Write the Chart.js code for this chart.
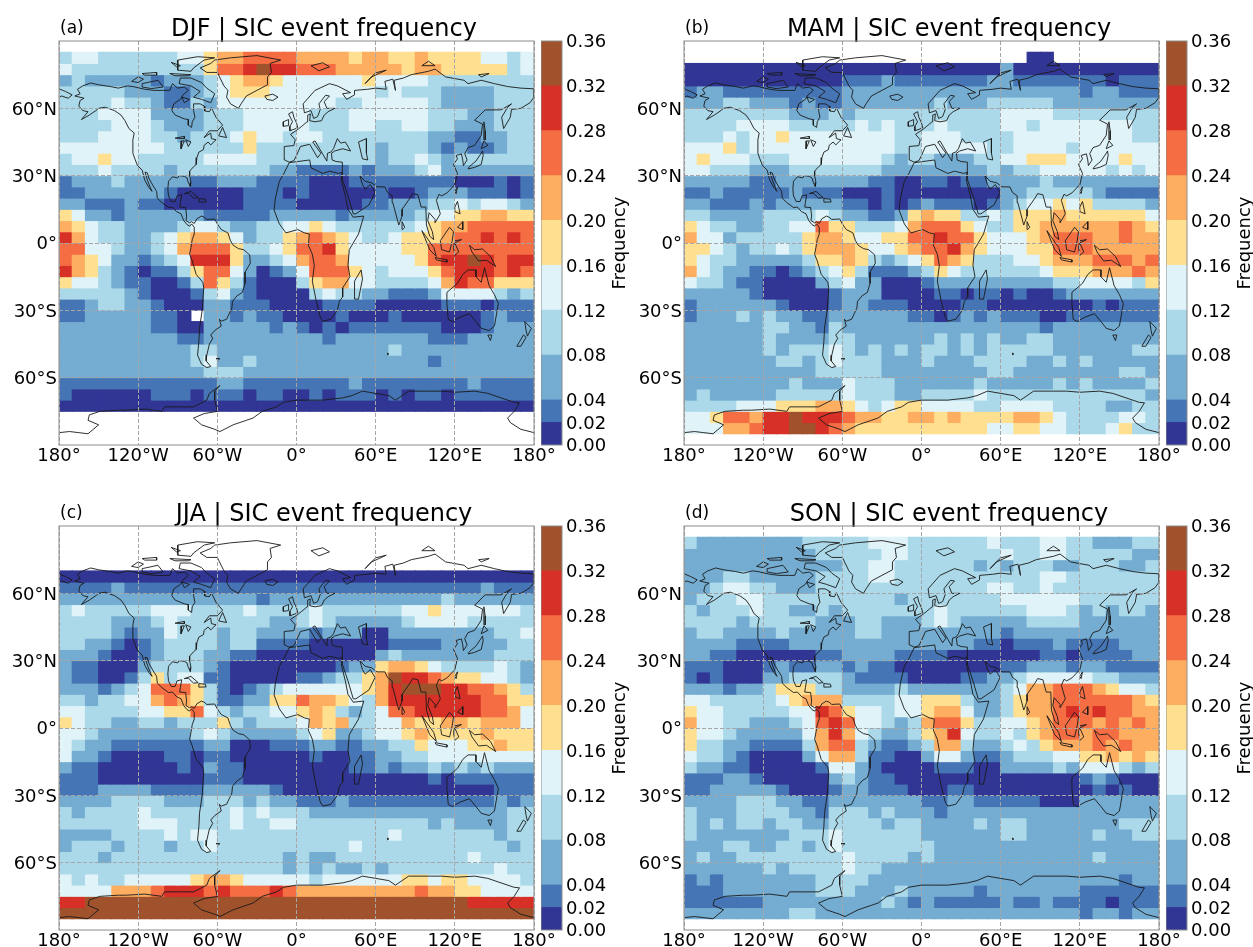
<!DOCTYPE html>
<html>
<head>
<meta charset="utf-8">
<title>SIC event frequency</title>
<script src="https://cdn.jsdelivr.net/npm/chart.js@4"></script>
<style>
  html, body { margin: 0; background: #fff; overflow: hidden; width: 1253px; height: 947px; }
  .slot { position: absolute; }
</style>
</head>
<body>
<script>
// Colour classes
const bounds = [0, 0.02, 0.04, 0.08, 0.12, 0.16, 0.20, 0.24, 0.28, 0.32, 0.36];
const boundColors = ["#313695", "#4575b4", "#74add1", "#abd9e9", "#e0f3f8", "#fee090", "#fdae61", "#f46d43", "#d73027", "#a0522d"];

const lonTicks = [-180, -120, -60, 0, 60, 120, 180];
const latTicks = [-60, -30, 0, 30, 60];
const seasons = ["DJF", "MAM", "JJA", "SON"];
const tags = ["(a)", "(b)", "(c)", "(d)"];

// Frequency class of each 10x5 degree cell, north to south, 180W to 180E.
// One digit = index into bounds, "." = no data. Grouped by six to keep them countable.
const blank = "...... ...... ...... ...... ...... ......";
const djf = [
  blank,
  "344333 333445 667777 666656 655655 554434",
  "433333 333335 778988 777666 665665 555534",
  "232222 212223 456654 444445 444433 333333",
  "333332 221123 455544 444444 343332 222333",
  "333343 321132 444444 444334 444432 222333",
  "333444 422223 334444 433344 444433 322333",
  "333344 432223 334444 433344 334433 222333",
  "333444 433233 345443 443333 333322 112233",
  "444444 443333 335333 333333 233321 211233",
  "344544 333334 444333 333333 233432 333333",
  "333433 332333 333322 111121 222342 222222",
  "122232 222211 222111 100011 111111 000101",
  "112222 221000 001110 100000 100122 211101",
  "221112 110000 001111 000001 122233 434432",
  "542212 222221 111122 222122 222344 556655",
  "654332 222344 322334 454333 333456 677777",
  "864332 234566 542335 676543 345556 778787",
  "774432 234677 753345 778544 445577 777777",
  "765422 123488 852234 677644 444578 898788",
  "865321 011357 742012 477754 344457 888787",
  "544321 100137 531000 356644 333346 877555",
  "333332 100013 421000 034332 211124 444323",
  "112332 210002 211100 001111 000001 110111",
  "112222 2110.2 212110 000100 010000 001211",
  "222222 211002 222212 101011 111110 001222",
  "222222 222112 222222 221222 222211 122222",
  "222222 222233 222222 222222 232222 222222",
  "222222 222234 223222 222222 222212 222222",
  "222222 222223 332222 222222 222222 222222",
  "111111 111111 221111 111121 111111 121111",
  "100000 011101 110110 010111 010110 111111",
  "000000 000000 000000 000000 000000 000000",
  blank,
  blank,
  blank
];
const mam = [
  blank,
  "...... ...... ...... ...... ..00.. ......",
  "000000 000000 000000 000000 200000 000000",
  "000000 000000 111211 111112 211111 110111",
  "122111 111111 222222 222222 222222 122111",
  "222332 221211 222222 232223 333322 222222",
  "333333 332223 233333 333333 444433 333333",
  "333344 443333 343433 343333 443444 444433",
  "333434 454444 444433 444333 344444 444433",
  "444534 444444 444433 444443 344443 444444",
  "454443 334444 444323 322233 445554 444544",
  "443332 223333 333222 222223 233444 443434",
  "222221 122222 221100 110112 222322 222222",
  "112111 112111 000100 000000 223333 321111",
  "221112 122222 110101 211101 234454 533332",
  "332222 333343 221125 655334 355565 555554",
  "543322 334475 533346 777543 355666 666765",
  "644233 333566 544557 787754 445677 766766",
  "554323 343566 654456 778654 445577 766666",
  "543322 222355 653234 576533 344566 677767",
  "643221 101234 531112 354333 333455 566676",
  "433211 000023 422000 122222 222233 444435",
  "222221 000001 222000 011011 010012 222222",
  "122222 210001 221110 000110 000000 010111",
  "122232 322112 222221 101212 111001 111111",
  "222222 332213 222222 222222 222122 222222",
  "222222 322223 322222 232323 223322 222222",
  "222222 323334 323232 332323 333322 222233",
  "222222 233234 333222 322233 332232 322222",
  "222222 222233 333222 222223 322222 222332",
  "222222 223222 433322 222232 222232 322223",
  "232222 233333 433322 333343 333333 333332",
  "333344 455566 543455 444433 444433 332233",
  "445776 889888 766556 656555 566543 333443",
  "444667 889987 655555 555554 455443 334533",
  blank
];
const jja = [
  blank,
  blank,
  blank,
  blank,
  "000000 000000 000000 000000 000000 000000",
  "111121 111111 111111 111111 111111 112111",
  "222222 222222 222122 222222 222223 222222",
  "343333 344433 334333 343333 334454 444443",
  "333322 234333 333322 343222 223444 433333",
  "333321 224333 233222 212220 022222 222334",
  "332210 123333 233111 100000 011112 222233",
  "222100 123332 211000 000000 232222 222333",
  "211000 233332 100000 000122 566543 333432",
  "211001 353441 100000 112335 698876 554432",
  "222123 477753 101234 444445 689998 877653",
  "332334 467653 112255 766543 688888 887755",
  "443333 445574 323344 565323 477888 887764",
  "543322 332333 532333 465633 446556 656664",
  "443222 222234 322222 345223 445655 556555",
  "432211 111112 200011 122112 233544 455655",
  "422100 001101 100000 010011 223344 444444",
  "211000 000102 110000 000011 212232 323222",
  "111000 000001 110000 000000 000010 111111",
  "111222 211112 222210 000000 000000 000111",
  "222233 332223 332322 111211 111111 111212",
  "323333 433333 343433 322222 222222 222233",
  "333333 444333 343344 333333 333323 222233",
  "222233 334344 333333 333333 343333 333233",
  "233323 332334 333333 333343 333333 333323",
  "333233 333333 333332 322333 333333 343333",
  "333333 333333 333332 323223 233333 333433",
  "434334 444456 654444 434444 445545 544443",
  "444466 678887 877787 666666 666766 554444",
  "889999 999999 999999 999999 999999 988888",
  "999999 999999 999999 999999 999999 999999",
  blank
];
const son = [
  blank,
  "322222 222333 334443 333334 333443 322233",
  "222222 222233 333443 333333 433443 333322",
  "222222 222222 334433 333323 233322 333223",
  "222332 222233 334433 333333 333443 333333",
  "223443 322233 333333 333334 433433 333333",
  "233344 333333 333323 333333 444444 333333",
  "323334 332232 333333 343333 334443 232332",
  "333323 333322 233222 343222 223333 222222",
  "233222 232222 233222 222222 122222 222222",
  "222211 112222 222222 222211 011121 111222",
  "221100 000011 222211 110000 000110 111122",
  "111000 121122 121100 000000 112221 221111",
  "101000 223333 211110 000112 234444 433222",
  "222122 355533 222232 222222 346677 765443",
  "443333 345666 333344 555322 356677 777765",
  "544333 334487 544344 566422 356678 787766",
  "644332 223478 744323 677533 445677 767676",
  "544322 222468 643223 568433 435677 677666",
  "533221 111367 732112 366322 343566 676766",
  "433210 000246 631100 244211 233344 556565",
  "322110 000014 421000 011100 222232 444323",
  "111221 000002 321100 000000 000000 121000",
  "112222 210001 221110 001100 000000 010100",
  "222233 322112 222222 112211 111000 222222",
  "322233 332213 332322 212222 222222 222222",
  "323233 233223 333233 222232 332222 222333",
  "322222 223334 333333 222222 332222 232233",
  "222332 233234 333333 322222 222222 222222",
  "232233 333333 433332 322222 222222 232222",
  "222222 323333 433222 222222 222222 222222",
  "121222 222233 332222 222222 222222 222122",
  "111222 222233 322232 222212 222222 111111",
  "111111 222222 222321 211111 211211 110111",
  "222222 223322 222222 222222 222222 122122",
  blank
];
const seasonRows = [djf, mam, jja, son];

// Rough coastlines, [lon, lat]
const coastlines = [
  // Americas
  [[-168,65.5],[-164,66.5],[-166,68.5],[-162,70],[-156,71.3],[-150,70.5],[-141,69.7],[-135,69],[-128,70],[-124,69.7],[-115,68.5],[-108,68],[-101,68],[-96,68],[-94,71],[-90,69],[-85,69.5],[-82,68],[-86,66],[-88,64],[-93,62],[-94.5,59],[-92,57],[-85,55.3],[-82,55],[-82,52.5],[-79.5,51.5],[-79,54],[-77,56],[-78,59],[-78,62],[-73,62],[-70,61],[-69.5,58.8],[-66,58.5],[-64.5,60.3],[-61,56],[-56,52.5],[-60,50],[-66,50],[-70,47],[-65,49],[-64.5,46.5],[-61,46],[-65,43.7],[-67,45],[-70,43.5],[-70.5,41.6],[-74,40.5],[-75.5,38],[-76,35],[-78,34],[-81,32],[-81,30],[-80,27],[-80.5,25.2],[-82,27],[-83,29],[-85,29.7],[-89,30],[-90,29],[-94,29.5],[-97,27.5],[-97.5,24],[-97,21],[-95,18.5],[-92,18.5],[-90.5,21],[-87,21.5],[-88,18],[-88.5,16],[-84,15.8],[-83.3,12],[-83.8,10],[-81,9],[-79.5,9.5],[-77.5,8.7],[-75.5,10.8],[-72,12],[-70,11.5],[-68,10.5],[-62,10.7],[-60,8.5],[-57,6],[-52,4.5],[-50,1],[-48,-1],[-44,-2.5],[-40,-3],[-35.5,-5.3],[-35,-9],[-39,-13],[-39,-18],[-41,-22],[-45,-23.5],[-48.5,-26],[-49,-29],[-53,-34],[-57,-34.8],[-58.5,-34],[-57,-37],[-62,-39],[-65,-41],[-63.5,-42.5],[-66,-45],[-68,-50],[-68.5,-52.5],[-65,-55],[-68,-55.5],[-72,-54],[-75,-50],[-74,-44],[-73.5,-38],[-71.5,-30],[-70.3,-20],[-71,-17.5],[-76,-14],[-79,-8],[-81,-5],[-80,-2],[-79,1.5],[-77.5,4],[-77.5,7],[-79.5,8.5],[-81,7.5],[-83,8.2],[-85.5,10],[-87.5,13],[-91,14],[-94,16],[-97,15.8],[-102,18],[-105.5,20],[-106,23],[-109,25.8],[-112,29],[-113,31.2],[-114.8,31.6],[-113,28],[-111,25],[-109.5,23],[-112,24.8],[-115,28],[-117,32.5],[-120.5,34.5],[-122.5,37.5],[-124,40],[-124,46],[-123,49],[-127,51],[-130,54.5],[-133,57],[-138,59],[-145,60.5],[-150,60],[-152,59],[-157,57],[-163,55],[-158,58.5],[-162,59],[-165,61],[-164,63.5],[-161,64.5],[-168,65.5]],
  // Greenland
  [[-73,78],[-68,76],[-60,76],[-55,70],[-52,68],[-53,65],[-50,62],[-44,60],[-42,62],[-38,65.5],[-30,68],[-22,70.5],[-22,74],[-19,76],[-20,80],[-12,81.5],[-30,83.5],[-50,82.5],[-62,81.5],[-65,80],[-73,78]],
  // Canadian Arctic and north Atlantic islands
  [[-80,73.5],[-72,71.5],[-68,69],[-62,66.5],[-65,62.5],[-72,64],[-78,65],[-73,67.5],[-80,70],[-89,71],[-88,73.5],[-80,73.5]],
  [[-117,71],[-105,72.5],[-101,69.5],[-110,68.8],[-117,69.5],[-117,71]],
  [[-125,72],[-120,74],[-116,73],[-120,71.5],[-125,72]],
  [[-90,77],[-80,76.5],[-78,78],[-70,81.5],[-62,82.5],[-75,83],[-90,81.5],[-90,77]],
  [[-96,75.5],[-80,75],[-82,74.5],[-92,74.5],[-96,75.5]],
  [[-117,75.5],[-106,76],[-106,74.8],[-115,74.8],[-117,75.5]],
  [[-95,80.5],[-88,79],[-91,78.5],[-95,80.5]],
  [[-87,65],[-81,64],[-85,62.5],[-87,65]],
  [[-59,47.7],[-56,51.5],[-53,47],[-59,47.7]],
  [[-85,22],[-80,23],[-74.5,20.2],[-78,20],[-82,22.2],[-85,22]],
  [[-74,19.8],[-69,19.5],[-68.5,18.3],[-74,18.2],[-74,19.8]],
  [[-24,65.5],[-18,66.3],[-14,65],[-18,63.5],[-22.5,64],[-24,65.5]],
  [[-92,46.7],[-85,47.5],[-85,46.5],[-92,46.7]],
  [[-87.5,42],[-85,45.5],[-87,45.5],[-87.5,42]],
  [[-84,46],[-80,45],[-82,43],[-84,46]],
  // Eurasia
  [[-9,37],[-9.3,43],[-2,43.4],[-1,46],[-4.5,48.4],[1.5,50.8],[4,52],[8,54],[8.5,57],[10.5,57.5],[10,54.5],[14,54],[19,54.5],[21,57],[24,58.5],[29,60],[23,60],[21,63],[25,65.5],[22,65.8],[17,62],[18,59.5],[16,56.3],[13,55.5],[11,59],[6,58],[5,62],[14,68],[25,71],[31,70],[41,67],[35,66.5],[38,64],[44,66],[44,68],[54,68.5],[60,69],[68,68.5],[67,72],[73,73],[75,68],[74,72.5],[81,73.5],[87,75],[100,76.5],[105,77.5],[113,74],[127,72.5],[130,71],[140,72.5],[150,71],[160,69.7],[170,69],[180,68.7],[180,65],[177,62.5],[170,60],[163,59.5],[162,56],[157,51],[155.5,56],[160,60.5],[163,62],[155,59.3],[143,59.3],[135,54.7],[141,53],[140,48],[135,43.5],[130,42.5],[127.5,39.8],[129.3,37],[126.5,34.5],[126,37],[125,39.7],[121,39],[122,37.5],[119,35],[122,31],[120,26],[114,22.3],[110,21],[108,21.7],[106,19],[109,13],[105,9],[105,10.5],[100.5,13.5],[99.5,10],[103,5],[104,1.5],[101,3],[98.5,8],[98,16],[94.5,16],[92,21.5],[88,22],[86,20],[80,15],[80,12],[77.5,8],[73,18],[72.5,21],[69,22.5],[67,25],[61,25],[57,26.8],[52,27.5],[48,30],[50,26],[52,24],[56,26],[59.5,22.5],[55,17],[45,13],[43,13],[39,21],[35,28],[34.5,31.5],[35,36],[30,36.3],[27,37],[26.5,40],[29,41],[35,42],[41,41],[37,45],[33.5,44.5],[31,46.5],[28,42],[26,40.5],[23.5,40],[23,36.5],[20,39.5],[14,45.5],[12.3,45],[18.5,40],[16,38],[10,44],[3,43],[0,39],[-2,36.7],[-5.5,36],[-9,37]],
  [[-180,68.7],[-175,67.5],[-170,66],[-173,64.5],[-178,65.5],[-180,65]],
  // Africa
  [[-5.5,35.8],[10,37],[11,33.5],[20,31],[25,32],[32,31],[34.5,31.5],[34,28],[37,21],[39,15],[43,11.5],[51,12],[47,4],[40,-3],[39,-10],[40.5,-15],[35,-20],[35,-24],[32.5,-26],[31,-30],[26,-34],[20,-34.8],[18,-33],[15,-26],[12,-17],[13.5,-10],[12,-5],[9,-1],[9.7,4],[6,4.5],[1,6],[-8,4.5],[-13,8.5],[-17,14.7],[-16,20],[-13,27.5],[-9.5,31],[-5.5,35.8]],
  // Islands of Europe, Asia and the Indian Ocean
  [[-5,50],[1,51.3],[0,53.5],[-2,56],[-3,58.5],[-6,57.5],[-3,54],[-5,52],[-5,50]],
  [[-10,52],[-6,52.3],[-6,55],[-10,54],[-10,52]],
  [[11,79],[20,80.3],[25,78.5],[17,76.7],[11,79]],
  [[52,71],[57,74],[68,77],[60,75.8],[55,73],[52,71]],
  [[95,79],[105,79],[100,81],[95,79]],
  [[138,75],[146,75.5],[140,74],[138,75]],
  [[142,54],[143,50],[143,46],[142,46],[142,50],[142,54]],
  [[130,33],[135,33.7],[140,35],[141.5,39],[141,41],[140,40],[136,36.5],[131,34],[130,33]],
  [[140,42],[145,43.5],[142,45.5],[140,42]],
  [[120,23],[122,25],[121,22],[120,23]],
  [[120,16],[122,18.5],[124,13],[120,14],[120,16]],
  [[122,7],[126,9.5],[126,6],[122,7]],
  [[109,1],[116,7],[119,5],[118,1],[116,-4],[110,-3],[109,1]],
  [[95,5.5],[104,-2],[106,-6],[101,-3],[95,5.5]],
  [[105,-6.5],[114,-7.5],[114,-8.5],[106,-7.5],[105,-6.5]],
  [[120,1],[125,1.5],[120,0],[123,-4],[120,-5.5],[119,-2],[120,1]],
  [[131,-1],[135,-3],[141,-2.7],[147,-6],[151,-10.5],[144,-7.7],[138,-8],[133,-4],[131,-1]],
  [[80,9.5],[82,7],[80.5,6],[80,9.5]],
  [[49,-12],[50,-16],[47,-25],[44,-25],[44,-17],[49,-12]],
  [[47,45],[53,46.5],[53,40],[54,37],[50,37.5],[49,40],[47,45]],
  [[69,-49],[70,-49.5],[69,-49.8],[69,-49]],
  // Australia and New Zealand
  [[114,-22],[122,-18],[126,-14],[130,-12],[136,-12],[136,-15],[140,-17.5],[142.5,-11],[146,-19],[150,-23],[153,-27],[150,-37],[146,-39],[140,-38],[136,-35],[131,-31.5],[124,-33],[118,-35],[115,-34],[114,-27],[114,-22]],
  [[145,-41],[148,-41],[147,-43.5],[145,-41]],
  [[173,-35],[178,-38],[175,-41.5],[174,-39],[173,-35]],
  [[172,-41],[174,-42],[170,-46],[167,-46],[172,-41]],
  [[-61,-51.5],[-58,-51.5],[-59,-52],[-61,-51.5]],
  // Antarctica
  [[-180,-84.5],[-172,-84],[-165,-84.5],[-158,-85],[-150,-81],[-158,-79],[-157,-76.6],[-149,-75],[-135,-74.5],[-129,-74.5],[-115,-74],[-102,-75],[-100,-73],[-90,-73],[-78,-73],[-68,-70],[-66,-67],[-58,-63.5],[-62,-66],[-62,-70],[-60,-75],[-70,-76],[-78,-78],[-72,-81],[-62,-83],[-58,-84],[-48,-81],[-38,-79],[-33,-78],[-26,-75],[-15,-73],[-10,-71],[0,-70],[10,-70],[20,-70],[35,-69],[42,-68],[50,-66],[60,-67],[70,-68],[75,-70],[85,-66],[100,-66],[110,-66],[120,-66.5],[135,-66],[145,-67],[155,-69],[165,-71],[169,-71.2],[165,-75],[160,-78],[162,-80],[170,-83],[180,-84.5]]
];

Chart.defaults.font.family = '"DejaVu Sans"';
Chart.defaults.color = "#000";
Chart.defaults.animation = false;

const LON_STEP = 10, LAT_STEP = 5;
const GRID_GREY = "#a6a6a6";
const FRAME_GREY = "#8c8c8c";

function makeCanvas(left, top, width, height) {
  const slot = document.createElement("div");
  slot.className = "slot";
  slot.style.left = left + "px";
  slot.style.top = top + "px";
  const canvas = document.createElement("canvas");
  canvas.width = width;
  canvas.height = height;
  slot.appendChild(canvas);
  document.body.appendChild(slot);
  return canvas;
}

// level digit -> middle of its class
function cellValue(ch) {
  const i = Number(ch);
  return (bounds[i] + bounds[i + 1]) / 2;
}
function colorFor(v) {
  for (let i = 0; i < boundColors.length; i++) {
    if (v < bounds[i + 1]) return boundColors[i];
  }
  return boundColors[boundColors.length - 1];
}

function rowDatasets(rows) {
  return rows.map((row, r) => {
    const cells = row.replace(/ /g, "");
    const data = [], colors = [];
    for (let c = 0; c < cells.length; c++) {
      if (cells[c] === ".") continue;
      const north = 90 - r * LAT_STEP;
      data.push({ x: -180 + (c + 0.5) * LON_STEP, y: [north - LAT_STEP, north] });
      colors.push(colorFor(cellValue(cells[c])));
    }
    return { type: "bar", order: 1, data: data, backgroundColor: colors };
  });
}

function coastDatasets() {
  return coastlines.map(line => ({
    type: "line",
    order: 0,
    data: line.map(p => ({ x: p[0], y: p[1] })),
    borderColor: "#1a1a1a",
    borderWidth: 0.9,
    pointRadius: 0,
    tension: 0,
    fill: false
  }));
}

function frame(chart) {
  const a = chart.chartArea, ctx = chart.ctx;
  ctx.save();
  ctx.strokeStyle = FRAME_GREY;
  ctx.lineWidth = 1;
  ctx.strokeRect(a.left, a.top, a.right - a.left, a.bottom - a.top);
  ctx.restore();
}

function lonLabel(v) {
  if (v === 0) return "0°";
  if (Math.abs(v) === 180) return "180°";
  return Math.abs(v) + (v < 0 ? "°W" : "°E");
}
function latLabel(v) {
  if (v === 0) return "0°";
  return Math.abs(v) + (v < 0 ? "°S" : "°N");
}

function drawMap(i, px, py) {
  const width = 648, height = 470;
  const canvas = makeCanvas(px - 59, py - 41, width, height);
  new Chart(canvas, {
    type: "bar",
    data: { datasets: rowDatasets(seasonRows[i]).concat(coastDatasets()) },
    options: {
      responsive: false,
      devicePixelRatio: 1,
      datasets: { bar: { grouped: false, barPercentage: 1, categoryPercentage: 1, borderWidth: 0, inflateAmount: 0.5 } },
      plugins: {
        legend: { display: false },
        tooltip: { enabled: false },
        title: {
          display: true,
          text: seasons[i] + " | SIC event frequency",
          font: { size: 24, weight: "normal" },
          color: "#000",
          padding: { top: 15, bottom: -2.8 }
        }
      },
      scales: {
        x: {
          type: "linear", min: -180, max: 180, offset: false,
          afterFit: s => { s.height = 25; },
          afterBuildTicks: s => { s.ticks = lonTicks.map(v => ({ value: v })); },
          grid: { z: 1, offset: false, color: GRID_GREY, drawTicks: false },
          border: { display: false, dash: [4, 2] },
          ticks: { font: { size: 18 }, padding: 1, maxRotation: 0, autoSkip: false, callback: lonLabel }
        },
        y: {
          type: "linear", min: -90, max: 90,
          afterFit: s => { s.width = 59; },
          afterBuildTicks: s => { s.ticks = latTicks.map(v => ({ value: v })); },
          grid: { z: 1, color: GRID_GREY, drawTicks: false },
          border: { display: false, dash: [4, 2] },
          ticks: { font: { size: 18 }, padding: 2, labelOffset: 1.5, autoSkip: false, callback: latLabel }
        },
        // empty right hand axis: keeps the map clear of the colour bar and the title centred over both
        spare: {
          type: "linear", position: "right", min: 0, max: 1,
          afterFit: s => { s.width = width - 534; },
          grid: { display: false },
          border: { display: false },
          ticks: { display: false }
        }
      }
    },
    plugins: [{
      id: "panelBits",
      afterDraw(chart) {
        frame(chart);
        const ctx = chart.ctx;
        ctx.save();
        ctx.fillStyle = "#000";
        ctx.font = '17px "DejaVu Sans"';
        ctx.textAlign = "left";
        ctx.textBaseline = "alphabetic";
        ctx.fillText(tags[i], chart.chartArea.left + 1, chart.chartArea.top - 8);
        ctx.restore();
      }
    }]
  });
}

function drawColorbar(px, py) {
  const width = 110, height = 470, barWidth = 21;
  const canvas = makeCanvas(px + 482, py - 41, width, height);
  new Chart(canvas, {
    type: "bar",
    data: {
      labels: ["Frequency"],
      datasets: boundColors.map((c, i) => ({ data: [[bounds[i], bounds[i + 1]]], backgroundColor: c }))
    },
    options: {
      responsive: false,
      devicePixelRatio: 1,
      layout: { padding: { top: 41, bottom: 25, left: 0, right: 0 } },
      datasets: { bar: { grouped: false, barPercentage: 1, categoryPercentage: 1, borderWidth: 0, inflateAmount: 0.5 } },
      plugins: { legend: { display: false }, tooltip: { enabled: false } },
      scales: {
        x: { display: false },
        y: {
          position: "right", min: 0, max: 0.36,
          afterFit: s => { s.width = width - barWidth; },
          afterBuildTicks: s => { s.ticks = bounds.map(v => ({ value: v })); },
          grid: { drawOnChartArea: false, drawTicks: false },
          border: { display: false },
          ticks: { font: { size: 18 }, padding: 4, labelOffset: 1.5, autoSkip: false, callback: v => v.toFixed(2) }
        }
      }
    },
    plugins: [{
      id: "barBits",
      afterDraw(chart) {
        frame(chart);
        const ctx = chart.ctx, a = chart.chartArea;
        ctx.save();
        ctx.fillStyle = "#000";
        ctx.font = '18px "DejaVu Sans"';
        ctx.textAlign = "center";
        ctx.textBaseline = "middle";
        ctx.translate(a.left + 79, (a.top + a.bottom) / 2);
        ctx.rotate(-Math.PI / 2);
        ctx.fillText("Frequency", 0, 0);
        ctx.restore();
      }
    }]
  });
}

const panelLeft = [59, 684, 59, 684];
const panelTop = [41, 41, 526, 526];
seasons.forEach((s, i) => {
  drawMap(i, panelLeft[i], panelTop[i]);
  drawColorbar(panelLeft[i], panelTop[i]);
});
</script>
</body>
</html>
